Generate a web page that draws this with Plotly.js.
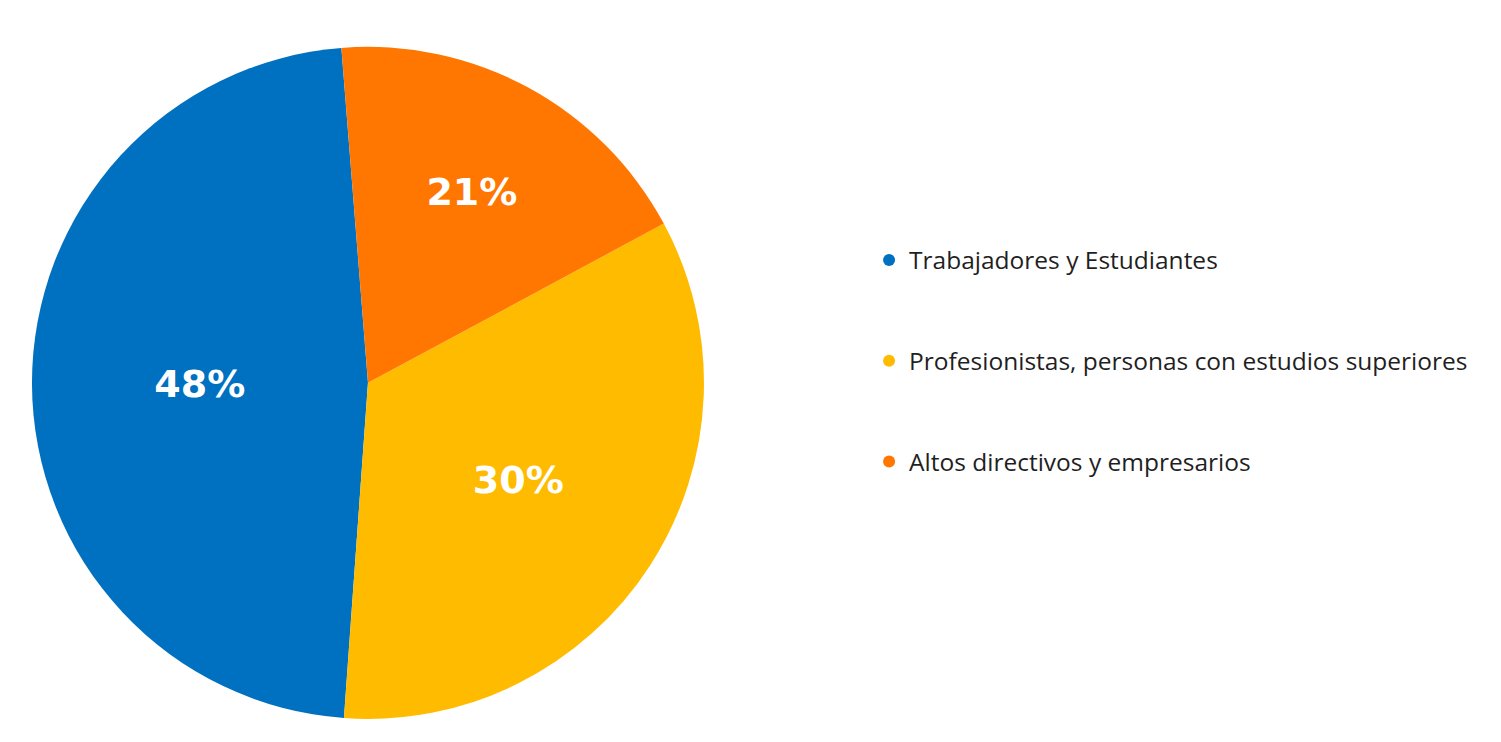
<!DOCTYPE html>
<html>
<head>
<meta charset="utf-8">
<script src="https://cdn.plot.ly/plotly-3.0.1.min.js"></script>
<style>html,body{margin:0;padding:0;background:#fff;}#chart{width:1501px;height:742px;}</style>
</head>
<body>
<div id="chart"></div>
<script>
const categories = ["Trabajadores y Estudiantes", "Profesionistas, personas con estudios superiores", "Altos directivos y empresarios"];
const sliceValues = [47.6, 34.0, 18.4];
const sliceLabels = ["48%", "30%", "21%"];
const colors = ["#0070C0", "#FFBB00", "#FF7700"];

const pie = {
  type: "pie",
  labels: categories,
  values: sliceValues,
  text: sliceLabels,
  textinfo: "text",
  textposition: "inside",
  insidetextorientation: "horizontal",
  sort: false,
  direction: "counterclockwise",
  rotation: -175.9,
  marker: {colors: colors, line: {width: 0}},
  textfont: {family: "'DejaVu Sans', sans-serif", size: 38, color: "#ffffff", weight: 700},
  domain: {x: [0.0213, 0.469], y: [0.031, 0.937]},
  showlegend: false,
  hoverinfo: "label+text"
};

const legendTraces = categories.map((c, i) => ({
  type: "scatter",
  mode: "markers",
  x: [null], y: [null],
  name: c,
  legendgroup: "g" + i,
  marker: {color: colors[i], size: 12, symbol: "circle"},
  showlegend: true
}));

const layout = {
  width: 1501, height: 742,
  margin: {l: 0, r: 0, t: 0, b: 0},
  paper_bgcolor: "#ffffff",
  plot_bgcolor: "#ffffff",
  xaxis: {visible: false},
  yaxis: {visible: false},
  showlegend: true,
  legend: {
    x: 0.579, xanchor: "left",
    y: 0.5135, yanchor: "middle",
    traceorder: "grouped",
    tracegroupgap: 66,
    font: {family: "'Open Sans', sans-serif", size: 24.5, color: "#1f1f1f"},
    bgcolor: "rgba(0,0,0,0)"
  }
};

Plotly.newPlot("chart", [pie].concat(legendTraces), layout, {displayModeBar: false, staticPlot: true});
</script>
</body>
</html>
